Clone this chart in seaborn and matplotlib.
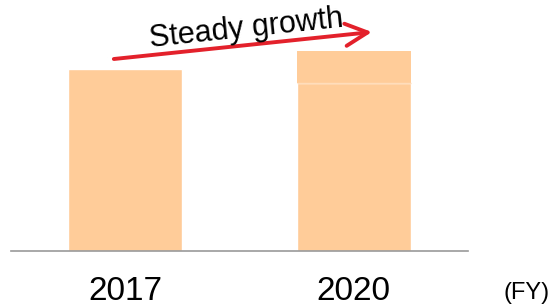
import matplotlib
matplotlib.use("Agg")
import matplotlib.pyplot as plt
import seaborn as sns

# values (arbitrary units, 2 px per unit)
years = ["2017", "2020"]
base_values = [91, 84]
upper_values = [0, 16]
bar_color = "#FFCC99"

sns.set_style("white")
plt.rcParams["font.family"] = ["Liberation Sans", "DejaVu Sans"]
plt.rcParams["text.color"] = "black"
plt.rcParams["xtick.color"] = "black"

fig = plt.figure(figsize=(5.53, 3.08), dpi=100)
ax = fig.add_axes([0.02, 0.185, 0.826, 0.815])

sns.barplot(x=years, y=base_values, color=bar_color, saturation=1, width=0.5, ax=ax)
ax.bar(range(len(years)), upper_values, bottom=base_values, width=0.5, color=bar_color, linewidth=0)
for i, (b, u) in enumerate(zip(base_values, upper_values)):
    if u > 0:
        ax.hlines(b, i - 0.25, i + 0.25, color="#FFDDBB", lw=1)

ax.set_xlim(-0.5, 1.5)
ax.set_ylim(0, 125.5)
ax.set_yticks([])
ax.set_ylabel("")
for side in ["top", "right", "left"]:
    ax.spines[side].set_visible(False)
ax.spines["bottom"].set_color("#999999")
ax.spines["bottom"].set_linewidth(1.2)
ax.tick_params(axis="x", length=0, pad=18, labelsize=24, labelcolor="black")

ax.annotate("", xy=(1.08, 109.5), xytext=(-0.05, 96),
            arrowprops=dict(arrowstyle="->,head_length=0.8,head_width=0.4",
                            color="#E3212B", lw=2.8, mutation_scale=20,
                            shrinkA=0, shrinkB=0))
ax.text(0.53, 111, "Steady growth", fontsize=22, rotation=6,
        ha="center", va="center", rotation_mode="anchor", color="black")

fig.text(0.953, 0.03, "(FY)", fontsize=17, ha="center", va="baseline", color="black")

fig.savefig("out.png", dpi=100)
